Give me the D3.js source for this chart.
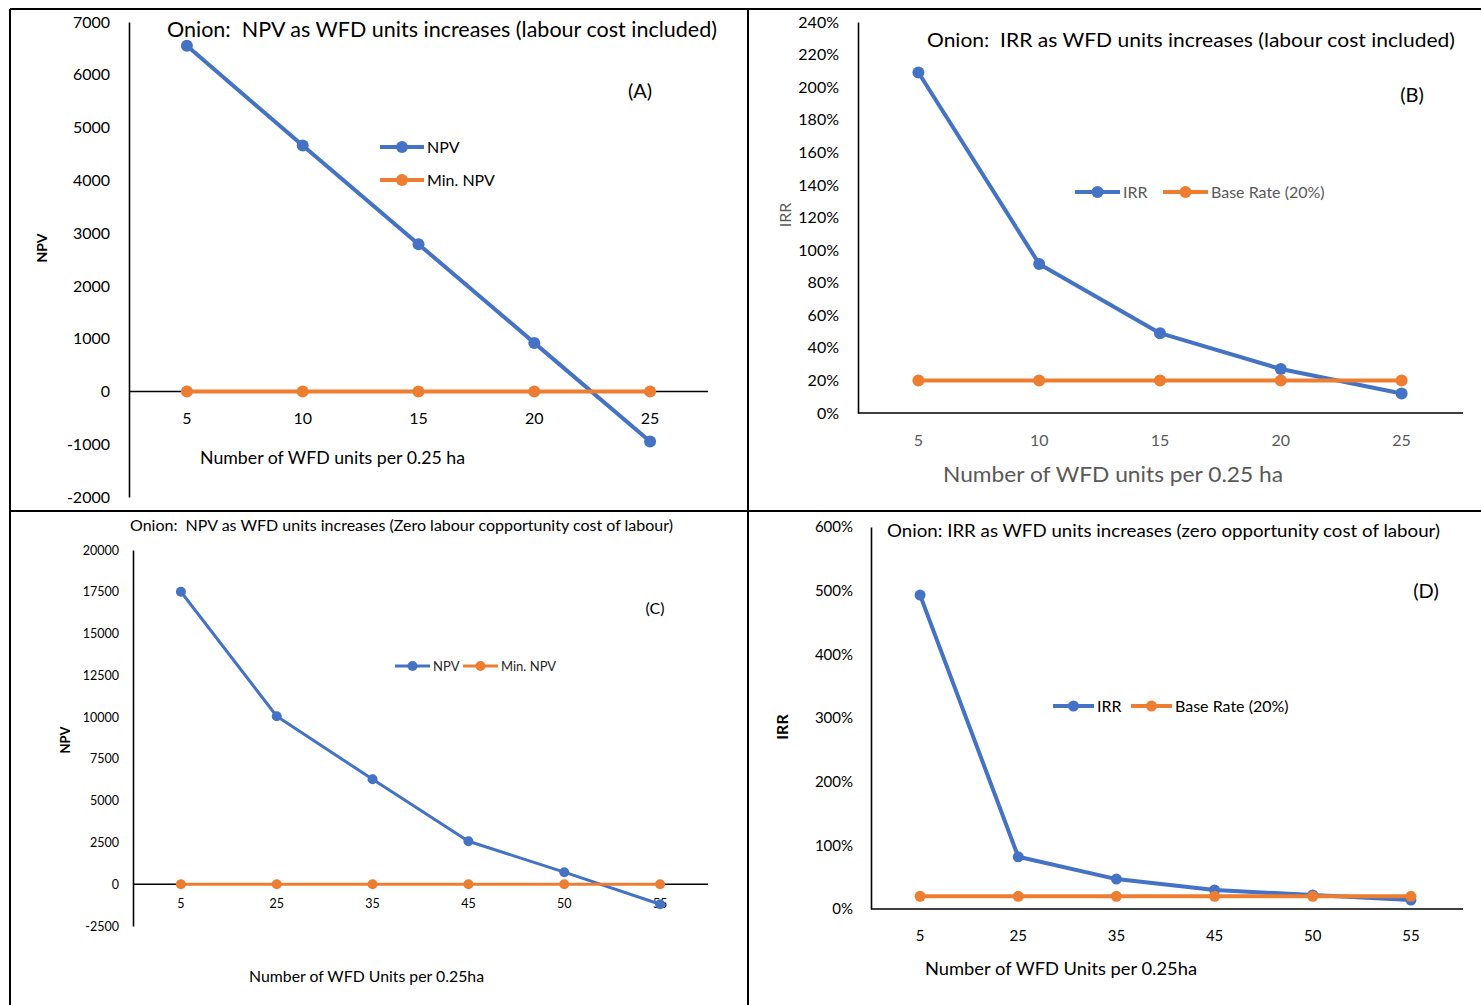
<!DOCTYPE html>
<html>
<head>
<meta charset="utf-8">
<script src="https://cdn.jsdelivr.net/npm/d3@7"></script>
<style>
  html, body { margin: 0; padding: 0; background: #fff; }
  svg { display: block; font-family: Lato, "Open Sans", sans-serif; }
</style>
</head>
<body>
<svg id="chart" width="1481" height="1005"></svg>
<script>
// ---- Data ----
const unitsAB = ["5", "10", "15", "20", "25"];
const unitsCD = ["5", "25", "35", "45", "50", "55"];

const npvA = [6550, 4660, 2790, 920, -950];
const minNpvA = [0, 0, 0, 0, 0];
const ticksA = [7000, 6000, 5000, 4000, 3000, 2000, 1000, 0, -1000, -2000];

const irrB = [2.09, 0.915, 0.49, 0.27, 0.12];
const baseRateB = [0.2, 0.2, 0.2, 0.2, 0.2];
const ticksB = [2.4, 2.2, 2.0, 1.8, 1.6, 1.4, 1.2, 1.0, 0.8, 0.6, 0.4, 0.2, 0];

const npvC = [17500, 10050, 6280, 2570, 720, -1200];
const minNpvC = [0, 0, 0, 0, 0, 0];
const ticksC = [20000, 17500, 15000, 12500, 10000, 7500, 5000, 2500, 0, -2500];

const irrD = [4.93, 0.82, 0.47, 0.30, 0.22, 0.14];
const baseRateD = [0.2, 0.2, 0.2, 0.2, 0.2, 0.2];
const ticksD = [6, 5, 4, 3, 2, 1, 0];

const BLUE = "#4472C4", ORANGE = "#ED7D31";
const pct = d => Math.round(d * 100) + "%";
const plain = d => String(d);

const svg = d3.select("#chart");

// ---- Panel frame ----
const frame = svg.append("g").attr("stroke", "#000").attr("stroke-width", 2);
frame.append("line").attr("x1", 10).attr("x2", 1481).attr("y1", 9).attr("y2", 9);
frame.append("line").attr("x1", 10).attr("x2", 10).attr("y1", 9).attr("y2", 1005);
frame.append("line").attr("x1", 748).attr("x2", 748).attr("y1", 9).attr("y2", 1005);
frame.append("line").attr("x1", 10).attr("x2", 1481).attr("y1", 511).attr("y2", 511);

function panel(cfg) {
  const g = svg.append("g");
  const x = d3.scaleBand().domain(cfg.cats).range(cfg.xRange).padding(0);
  const y = d3.scaleLinear().domain(cfg.yDomain).range(cfg.yRange);

  // y axis
  const ya = g.append("g")
    .attr("transform", `translate(${cfg.xRange[0]},0)`)
    .call(d3.axisLeft(y).tickValues(cfg.ticks).tickSize(0).tickPadding(cfg.yPad)
      .tickFormat(cfg.fmt || plain));
  ya.select(".domain").attr("stroke", "#000").attr("stroke-width", 1.6);
  ya.selectAll("text").attr("font-size", cfg.yFont).attr("fill", cfg.yTickColor || "#000")
    .attr("font-family", "Lato, sans-serif");

  // x axis at y = 0
  const xa = g.append("g")
    .attr("transform", `translate(0,${y(0)})`)
    .call(d3.axisBottom(x).tickSize(0).tickPadding(cfg.xPad));
  xa.select(".domain").attr("stroke", "#000").attr("stroke-width", 1.6)
    .attr("d", `M${cfg.xRange[0]},0H${cfg.xAxisEnd}`);
  xa.selectAll("text").attr("font-size", cfg.xFont).attr("fill", cfg.xTickColor || "#000")
    .attr("font-family", "Lato, sans-serif");

  const line = d3.line().x((d, i) => x(cfg.cats[i]) + x.bandwidth() / 2).y(d => y(d));
  cfg.series.forEach(s => {
    g.append("path").datum(s.values).attr("d", line)
      .attr("fill", "none").attr("stroke", s.color).attr("stroke-width", cfg.lw)
      .attr("stroke-linejoin", "round");
    g.selectAll(null).data(s.values).enter().append("circle")
      .attr("cx", (d, i) => x(cfg.cats[i]) + x.bandwidth() / 2)
      .attr("cy", d => y(d)).attr("r", cfg.r).attr("fill", s.color);
  });

  // legend
  cfg.legend.forEach((l, i) => {
    const s = cfg.series[i];
    g.append("line").attr("x1", l.x).attr("x2", l.x + l.w).attr("y1", l.y).attr("y2", l.y)
      .attr("stroke", s.color).attr("stroke-width", cfg.lw);
    g.append("circle").attr("cx", l.x + l.w / 2).attr("cy", l.y).attr("r", cfg.r).attr("fill", s.color);
    g.append("text").attr("x", l.x + l.w + 3).attr("y", l.y).attr("dy", "0.35em")
      .attr("font-size", cfg.legFont).attr("fill", cfg.legColor || "#000").text(s.name);
  });

  // title
  g.append("text").attr("x", cfg.title.x).attr("y", cfg.title.y)
    .attr("font-size", cfg.title.size).attr("fill", "#000")
    .attr("xml:space", "preserve").style("white-space", "pre")
    .attr("textLength", cfg.title.len).attr("lengthAdjust", "spacingAndGlyphs")
    .text(cfg.title.text);
  // x label
  g.append("text").attr("x", cfg.xl.x).attr("y", cfg.xl.y)
    .attr("font-size", cfg.xl.size).attr("fill", cfg.xl.color || "#000")
    .attr("textLength", cfg.xl.len).attr("lengthAdjust", "spacingAndGlyphs")
    .text(cfg.xl.text);
  // y label
  g.append("text").attr("transform", `translate(${cfg.yl.x},${cfg.yl.y}) rotate(-90)`)
    .attr("text-anchor", "middle").attr("dy", "0.35em")
    .attr("font-size", cfg.yl.size).attr("font-weight", cfg.yl.weight || "normal")
    .attr("fill", cfg.yl.color || "#000").text(cfg.yl.text);
  // panel tag
  g.append("text").attr("x", cfg.tag.x).attr("y", cfg.tag.y).attr("text-anchor", "middle")
    .attr("dy", "0.35em").attr("font-size", cfg.tag.size).attr("fill", "#000").text(cfg.tag.text);
}

panel({
  cats: unitsAB, xRange: [129, 708], xAxisEnd: 708, yDomain: [-2000, 7000], yRange: [497, 22],
  ticks: ticksA, yPad: 19, yFont: 16, xPad: 21, xFont: 16, lw: 4, r: 6,
  series: [{ name: "NPV", values: npvA, color: BLUE }, { name: "Min. NPV", values: minNpvA, color: ORANGE }],
  legend: [{ x: 380, y: 147, w: 44 }, { x: 380, y: 180, w: 44 }], legFont: 16,
  title: { text: "Onion:  NPV as WFD units increases (labour cost included)", x: 167, y: 37, size: 21, len: 550 },
  xl: { text: "Number of WFD units per 0.25 ha", x: 200, y: 464, size: 17, len: 265 },
  yl: { text: "NPV", x: 42, y: 248, size: 14, weight: "bold" },
  tag: { text: "(A)", x: 640, y: 91, size: 20 }
});

panel({
  cats: unitsAB, xRange: [858, 1462], xAxisEnd: 1463, yDomain: [0, 2.4], yRange: [413, 22],
  ticks: ticksB, fmt: pct, yPad: 19, yFont: 16, xPad: 22, xFont: 16, xTickColor: "#595959", lw: 4, r: 6,
  series: [{ name: "IRR", values: irrB, color: BLUE }, { name: "Base Rate (20%)", values: baseRateB, color: ORANGE }],
  legend: [{ x: 1075, y: 192, w: 45 }, { x: 1163, y: 192, w: 45 }], legFont: 16, legColor: "#595959",
  title: { text: "Onion:  IRR as WFD units increases (labour cost included)", x: 927, y: 47, size: 19, len: 528 },
  xl: { text: "Number of WFD units per 0.25 ha", x: 943, y: 482, size: 22, len: 340, color: "#595959" },
  yl: { text: "IRR", x: 785, y: 215, size: 16, color: "#595959" },
  tag: { text: "(B)", x: 1412, y: 95, size: 20 }
});

panel({
  cats: unitsCD, xRange: [133, 708], xAxisEnd: 708, yDomain: [-2500, 20000], yRange: [926, 550],
  ticks: ticksC, yPad: 14, yFont: 12.5, xPad: 15, xFont: 12.5, lw: 3, r: 5,
  series: [{ name: "NPV", values: npvC, color: BLUE }, { name: "Min. NPV", values: minNpvC, color: ORANGE }],
  legend: [{ x: 395, y: 666, w: 35 }, { x: 463, y: 666, w: 35 }], legFont: 13, legColor: "#262626",
  title: { text: "Onion:  NPV as WFD units increases (Zero labour copportunity cost of labour)", x: 130, y: 531, size: 14.5, len: 543 },
  xl: { text: "Number of WFD Units per 0.25ha", x: 249, y: 982, size: 15, len: 235 },
  yl: { text: "NPV", x: 65, y: 740, size: 13, weight: "bold" },
  tag: { text: "(C)", x: 655, y: 608, size: 16 }
});

panel({
  cats: unitsCD, xRange: [871, 1460], xAxisEnd: 1463, yDomain: [0, 6], yRange: [909, 527],
  ticks: ticksD, fmt: pct, yPad: 18, yFont: 15, xPad: 21, xFont: 15, lw: 4, r: 5.5,
  series: [{ name: "IRR", values: irrD, color: BLUE }, { name: "Base Rate (20%)", values: baseRateD, color: ORANGE }],
  legend: [{ x: 1053, y: 706, w: 41 }, { x: 1131, y: 706, w: 41 }], legFont: 16,
  title: { text: "Onion: IRR as WFD units increases (zero opportunity cost of labour)", x: 887, y: 537, size: 18, len: 553 },
  xl: { text: "Number of WFD Units per 0.25ha", x: 925, y: 975, size: 18, len: 272 },
  yl: { text: "IRR", x: 782, y: 727, size: 16, weight: "bold" },
  tag: { text: "(D)", x: 1426, y: 591, size: 20 }
});
</script>
</body>
</html>
